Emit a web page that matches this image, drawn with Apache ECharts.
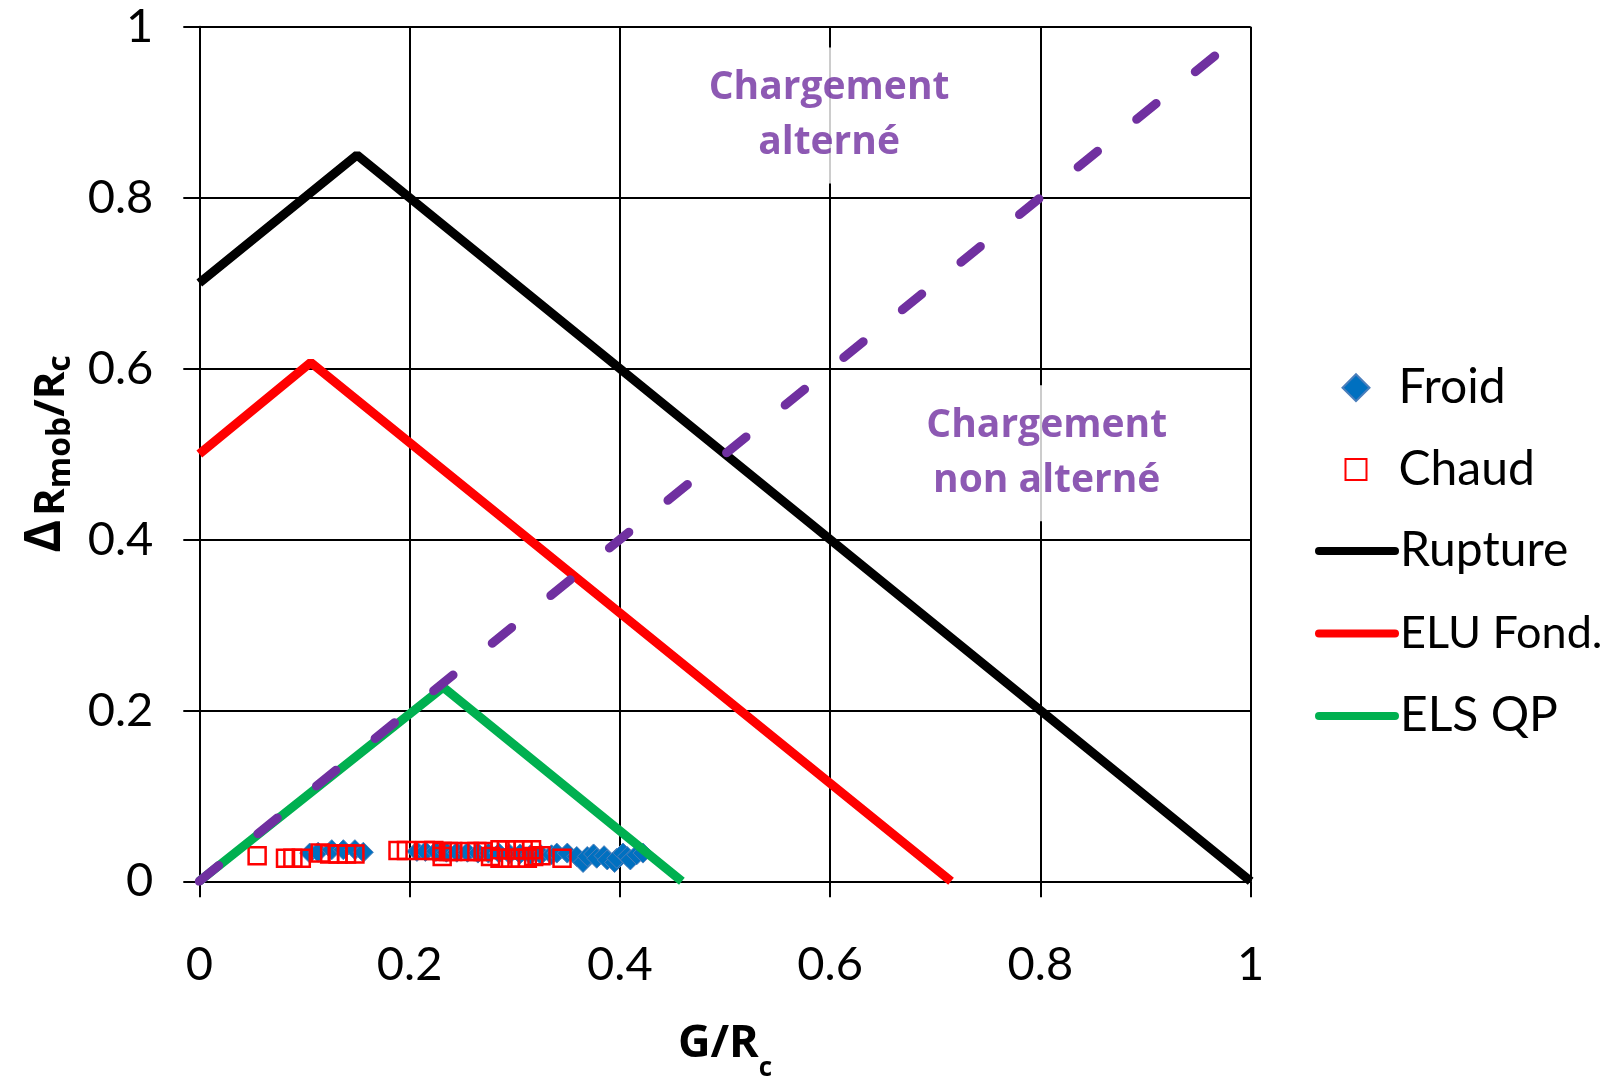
<!DOCTYPE html>
<html>
<head>
<meta charset="utf-8">
<script src="https://cdn.jsdelivr.net/npm/echarts@6/dist/echarts.min.js"></script>
<style>
html,body{margin:0;padding:0;background:#fff;}
#chart{width:1604px;height:1081px;}
</style>
</head>
<body>
<div id="chart"></div>
<script>
// ---- data ----
const froidX = [0.105,0.113,0.126,0.137,0.148,0.156,0.207,0.215,0.225,0.235,0.245,0.255,0.265,0.275,0.285,0.295,0.305,0.315,0.325,0.335,0.340,0.350,0.359,0.365,0.369,0.375,0.378,0.385,0.388,0.395,0.397,0.403,0.407,0.410,0.416,0.422];
const froidY = [0.033,0.034,0.037,0.037,0.037,0.034,0.035,0.035,0.035,0.034,0.034,0.034,0.033,0.033,0.033,0.032,0.032,0.031,0.031,0.031,0.033,0.033,0.029,0.022,0.029,0.032,0.027,0.030,0.025,0.022,0.027,0.033,0.029,0.025,0.031,0.033];
const chaudX = [0.055,0.082,0.089,0.097,0.115,0.124,0.132,0.140,0.148,0.189,0.197,0.215,0.223,0.231,0.237,0.241,0.231,0.257,0.264,0.270,0.277,0.286,0.292,0.300,0.308,0.316,0.286,0.296,0.305,0.312,0.318,0.325,0.345];
const chaudY = [0.030,0.027,0.027,0.027,0.033,0.032,0.032,0.032,0.032,0.036,0.036,0.036,0.036,0.035,0.035,0.035,0.029,0.035,0.035,0.035,0.029,0.037,0.037,0.037,0.037,0.037,0.027,0.027,0.027,0.027,0.029,0.030,0.027];
const ruptureX = [0, 0.15, 1];
const ruptureY = [0.70, 0.85, 0];
const eluX = [0, 0.106, 0.715];
const eluY = [0.50, 0.607, 0];
const elsX = [0, 0.232, 0.459];
const elsY = [0, 0.227, 0];
const limiteX = [0, 1];
const limiteY = [0, 1];
const annotX = [0.599, 0.806];
const annotY = [0.896, 0.501];
const annotText = ['Chargement\nalterné', 'Chargement\nnon alterné'];
const legendNames = ['Froid', 'Chaud', 'Rupture', 'ELU Fond.', 'ELS QP'];

const zip = (xs, ys) => xs.map((x, i) => [x, ys[i]]);

const chart = echarts.init(document.getElementById('chart'), null, {renderer: 'canvas'});
const REG = 'Lato';
const BOLD = '"Open Sans"';
const LEG_FS = 48;
const TICK_FS = 47;
const LW = 9;

const option = {
  animation: false,
  backgroundColor: '#fff',
  grid: {left: 199.3, right: 353.3, top: 26.7, bottom: 199.7, containLabel: false, outerBoundsMode: 'none'},
  xAxis: {
    type: 'value', min: 0, max: 1, interval: 0.2,
    axisLine: {show: true, onZero: false, lineStyle: {color: '#000', width: 2}},
    axisTick: {show: true, inside: false, length: 16, lineStyle: {color: '#000', width: 2}},
    splitLine: {show: true, lineStyle: {color: '#000', width: 2}},
    axisLabel: {margin: 60, color: '#000', fontSize: TICK_FS, fontFamily: REG},
    name: '{m|G/R}{s|c}',
    nameLocation: 'middle', nameGap: 140,
    nameTextStyle: {
      rich: {
        m: {fontSize: 45, fontWeight: 'bold', fontFamily: BOLD, color: '#000', lineHeight: 52, verticalAlign: 'top'},
        s: {fontSize: 26, fontWeight: 'bold', fontFamily: BOLD, color: '#000', lineHeight: 26, verticalAlign: 'top', padding: [34, 0, 0, 0]}
      }
    }
  },
  yAxis: {
    type: 'value', min: 0, max: 1, interval: 0.2,
    axisLine: {show: true, onZero: false, lineStyle: {color: '#000', width: 2}},
    axisTick: {show: true, inside: false, length: 16, lineStyle: {color: '#000', width: 2}},
    splitLine: {show: true, lineStyle: {color: '#000', width: 2}},
    axisLabel: {margin: 46, color: '#000', fontSize: TICK_FS, fontFamily: REG},
    name: '{d|Δ}{m|R}{s|mob}{m|/R}{s|c}',
    nameLocation: 'middle', nameRotate: 90, nameGap: 128,
    nameTextStyle: {
      rich: {
        d: {fontSize: 50, fontWeight: 'bold', fontFamily: BOLD, color: '#000', lineHeight: 38, verticalAlign: 'top', padding: [0, 4, 0, 0]},
        m: {fontSize: 42, fontWeight: 'bold', fontFamily: BOLD, color: '#000', lineHeight: 48, verticalAlign: 'top', padding: [10, 0, 0, 0]},
        s: {fontSize: 32, fontWeight: 'bold', fontFamily: BOLD, color: '#000', lineHeight: 32, verticalAlign: 'top', padding: [24, 0, 0, 0]}
      }
    }
  },
  legend: [
    {
      data: [legendNames[0]], left: 1341.5, top: 363.7, orient: 'vertical', padding: 0,
      itemWidth: 27, itemHeight: 27, selectedMode: false,
      textStyle: {fontSize: LEG_FS, fontFamily: REG, color: '#000', padding: [0, 0, 0, 24]}
    },
    {
      data: [legendNames[1]], left: 1344.5, top: 445.5, orient: 'vertical', padding: 0,
      itemWidth: 21, itemHeight: 21, selectedMode: false,
      textStyle: {fontSize: LEG_FS, fontFamily: REG, color: '#000', padding: [0, 0, 0, 27]}
    },
    {
      data: [
        {name: legendNames[2]},
        {name: legendNames[3], textStyle: {fontSize: 45}},
        {name: legendNames[4]}
      ],
      left: 1315, top: 527, orient: 'vertical', padding: 0,
      itemWidth: 76, itemHeight: 26, itemGap: 36, selectedMode: false,
      lineStyle: {width: 8, cap: 'round'},
      itemStyle: {color: 'rgba(0,0,0,0)', borderWidth: 0, opacity: 0},
      textStyle: {fontSize: LEG_FS, fontFamily: REG, color: '#000'}
    }
  ],
  series: [
    {
      name: 'Froid', type: 'scatter', data: zip(froidX, froidY),
      symbol: 'diamond', symbolSize: 20,
      itemStyle: {color: '#0070C0', borderColor: '#4A7EBB', borderWidth: 1, opacity: 1}
    },
    {
      name: 'Chaud', type: 'scatter', data: zip(chaudX, chaudY),
      symbol: 'rect', symbolSize: 17,
      itemStyle: {color: 'rgba(255,255,255,0)', borderColor: '#FF0000', borderWidth: 2.5, opacity: 1}
    },
    {
      name: 'Rupture', type: 'line', data: zip(ruptureX, ruptureY),
      symbol: 'none', color: '#000000',
      lineStyle: {color: '#000000', width: LW, cap: 'butt'}
    },
    {
      name: 'ELU Fond.', type: 'line', data: zip(eluX, eluY),
      symbol: 'none', color: '#FF0000',
      lineStyle: {color: '#FF0000', width: LW, cap: 'butt'}
    },
    {
      name: 'ELS QP', type: 'line', data: zip(elsX, elsY),
      symbol: 'none', color: '#00B050',
      lineStyle: {color: '#00B050', width: LW, cap: 'butt'}
    },
    {
      name: 'Limite', type: 'line', data: zip(limiteX, limiteY),
      symbol: 'none', color: '#7030A0',
      lineStyle: {color: '#7030A0', width: LW, type: [25, 50.5], cap: 'round'}
    },
    {
      name: 'Annotations', type: 'scatter', silent: true,
      data: annotX.map((x, i) => ({value: [x, annotY[i]], label: {formatter: annotText[i]}})),
      symbolSize: 1, itemStyle: {color: 'rgba(0,0,0,0)'},
      z: 10,
      label: {
        show: true, position: 'inside', align: 'center', verticalAlign: 'middle',
        fontSize: 39, fontWeight: 'bold', fontFamily: BOLD, color: '#7030A0',
        lineHeight: 55, backgroundColor: '#fff', padding: [13, 8, 13, 8]
      }
    }
  ]
};
chart.setOption(option);
</script>
</body>
</html>
